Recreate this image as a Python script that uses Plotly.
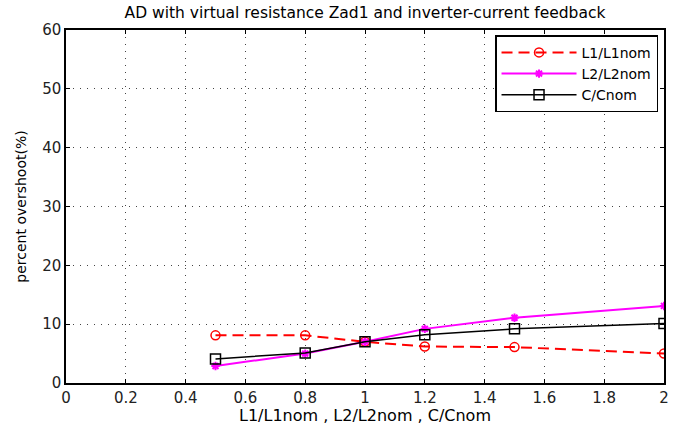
import plotly.graph_objects as go

# Parameter ratio (x) and percent overshoot for each varied component
ratio = [0.5, 0.8, 1.0, 1.2, 1.5, 2.0]
l1_overshoot = [8.1, 8.1, 7.0, 6.2, 6.1, 5.0]
l2_overshoot = [2.9, 5.0, 7.0, 9.2, 11.1, 13.1]
c_overshoot = [4.1, 5.1, 7.0, 8.2, 9.2, 10.1]

x_ticks = [0, 0.2, 0.4, 0.6, 0.8, 1, 1.2, 1.4, 1.6, 1.8, 2]
y_ticks = [0, 10, 20, 30, 40, 50, 60]

font_family = "DejaVu Sans, Verdana, sans-serif"

fig = go.Figure()
fig.add_trace(go.Scatter(
    x=ratio, y=l1_overshoot, name="L1/L1nom", mode="lines+markers",
    line=dict(color="#ff0000", width=2, dash="11px,6px"),
    marker=dict(symbol="circle-open", size=9, color="#ff0000", line=dict(width=1.5)),
))
fig.add_trace(go.Scatter(
    x=ratio, y=l2_overshoot, name="L2/L2nom", mode="lines+markers",
    line=dict(color="#ff00ff", width=2),
    marker=dict(symbol="asterisk-open", size=7, color="#ff00ff", line=dict(width=2, color="#ff00ff")),
))
fig.add_trace(go.Scatter(
    x=ratio, y=c_overshoot, name="C/Cnom", mode="lines+markers",
    line=dict(color="#000000", width=1.5),
    marker=dict(symbol="square-open", size=10, color="#000000", line=dict(width=1.5)),
))

axis_common = dict(
    showline=True, linecolor="#000000", linewidth=1.5, mirror="allticks",
    ticks="inside", ticklen=4, tickcolor="#000000",
    showgrid=True, gridcolor="#444444", griddash="1px,6px", gridwidth=1,
    zeroline=False, tickfont=dict(size=15, color="#222222", family=font_family),
)

fig.update_layout(
    width=673, height=425,
    margin=dict(l=66, r=4, t=30, b=42),
    paper_bgcolor="#ffffff", plot_bgcolor="#ffffff",
    font=dict(family=font_family, color="#000000"),
    title=dict(
        text="AD with virtual resistance Zad1 and inverter-current feedback",
        xref="paper", x=0.5, xanchor="center", y=0.97, yanchor="middle",
        font=dict(size=15.5, color="#000000"),
    ),
    xaxis=dict(
        range=[0, 2], tickvals=x_ticks, ticktext=[f"{v:g}" for v in x_ticks],
        title=dict(text="L1/L1nom , L2/L2nom , C/Cnom", font=dict(size=16), standoff=2),
        **axis_common,
    ),
    yaxis=dict(
        range=[0, 60], tickvals=y_ticks,
        title=dict(text="percent overshoot(%)", font=dict(size=14), standoff=12),
        **axis_common,
    ),
    legend=dict(
        x=0.99, y=0.985, xanchor="right", yanchor="top",
        bgcolor="#ffffff", bordercolor="#000000", borderwidth=1.5,
        font=dict(size=14, color="#000000"),
        itemwidth=75, tracegroupgap=0,
    ),
    showlegend=True,
)

fig.write_html("out.html")
